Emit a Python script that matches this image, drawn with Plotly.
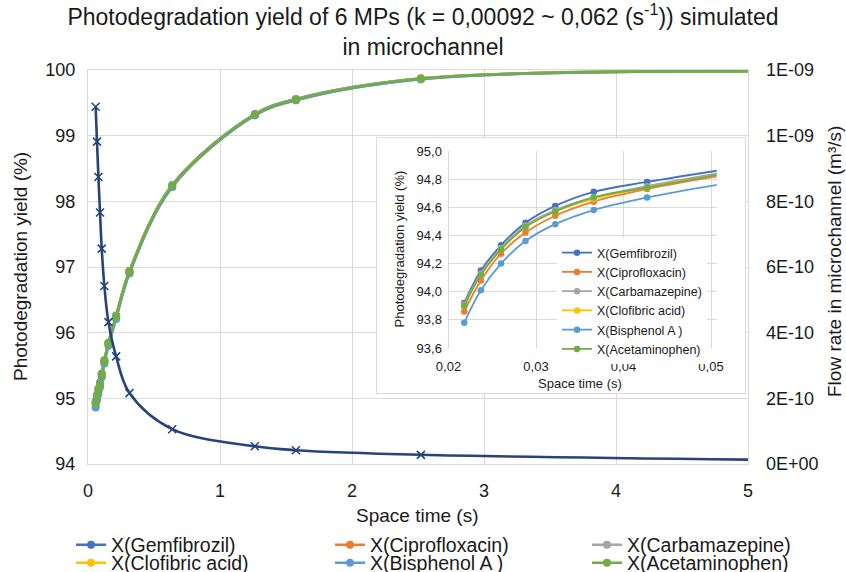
import plotly.graph_objects as go

# ---------------- data ----------------
names = ["X(Gemfibrozil)", "X(Ciprofloxacin)", "X(Carbamazepine)",
         "X(Clofibric acid)", "X(Bisphenol A )", "X(Acetaminophen)"]
colors = ["#4472C4", "#ED7D31", "#A5A5A5", "#FFC000", "#5B9BD5", "#70AD47"]

# main chart (space time in s)
tau = [0.058, 0.068, 0.079, 0.091, 0.104, 0.124, 0.155, 0.213, 0.314, 0.638,
       1.264, 1.575, 2.522, 5.06]
gem = [94.95, 95.05, 95.15, 95.24, 95.38, 95.58, 95.85, 96.26, 96.94, 98.25, 99.33, 99.56, 99.87, 99.98]
cipro = [94.91, 95.01, 95.11, 95.20, 95.35, 95.55, 95.82, 96.23, 96.91, 98.22, 99.31, 99.54, 99.86, 99.98]
carb = [94.94, 95.04, 95.14, 95.23, 95.37, 95.57, 95.84, 96.25, 96.93, 98.24, 99.32, 99.55, 99.87, 99.98]
clof = [94.93, 95.03, 95.13, 95.22, 95.37, 95.57, 95.84, 96.25, 96.93, 98.24, 99.32, 99.55, 99.87, 99.98]
bisph = [94.86, 94.97, 95.07, 95.17, 95.32, 95.53, 95.80, 96.21, 96.90, 98.22, 99.31, 99.54, 99.86, 99.98]
acet = [94.93, 95.03, 95.13, 95.22, 95.37, 95.57, 95.84, 96.25, 96.93, 98.24, 99.32, 99.55, 99.87, 99.98]
flow = [1.088e-9, 9.82e-10, 8.74e-10, 7.66e-10, 6.56e-10, 5.42e-10, 4.32e-10, 3.28e-10,
        2.16e-10, 1.06e-10, 5.4e-11, 4.2e-11, 2.8e-11, 1.3e-11]
main_series = [gem, cipro, carb, clof, bisph, acet]

# inset chart
tau_in = [0.0218, 0.0237, 0.0260, 0.0288, 0.0322, 0.0366, 0.0427, 0.0507]
gem_in = [93.92, 94.15, 94.33, 94.49, 94.61, 94.71, 94.78, 94.86]
cipro_in = [93.86, 94.08, 94.27, 94.42, 94.54, 94.64, 94.73, 94.82]
carb_in = [93.91, 94.13, 94.31, 94.47, 94.58, 94.67, 94.75, 94.84]
clof_in = [93.90, 94.12, 94.30, 94.46, 94.57, 94.66, 94.74, 94.83]
bisph_in = [93.78, 94.01, 94.20, 94.36, 94.48, 94.58, 94.67, 94.76]
acet_in = [93.90, 94.12, 94.30, 94.46, 94.57, 94.67, 94.74, 94.83]
inset_series = [gem_in, cipro_in, carb_in, clof_in, bisph_in, acet_in]

flow_ticks = [0, 2e-10, 4e-10, 6e-10, 8e-10, 1.0e-9, 1.2e-9]
flow_ticktext = ["0E+00", "2E-10", "4E-10", "6E-10", "8E-10", "1E-09", "1E-09"]

title_text = ("Photodegradation yield of 6 MPs (k = 0,00092 ~ 0,062 (s<sup>-1</sup>)) simulated"
              "<br>in microchannel")
x_title = "Space time (s)"
y_title = "Photodegradation yield (%)"
y2_title = "Flow rate in microchannel (m³/s)"

# ---------------- figure ----------------
FONT = "Liberation Sans, Arial, sans-serif"
TXT = "#1a1a1a"
GRID = "#D9D9D9"
W, H = 846, 572
L, R, T, B = 88, 98, 70, 108
PW, PH = W - L - R, H - T - B


def dx(px):
    return (px - L) / PW


def dy(py):
    return (H - B - py) / PH


fig = go.Figure()

legend_ids = ["legend", "legend3", "legend4", "legend5", "legend6", "legend7"]

for i, (nm, c, ys) in enumerate(zip(names, colors, main_series)):
    fig.add_trace(go.Scatter(
        x=tau, y=ys, name=nm, mode="lines+markers",
        line=dict(color=c, width=2.6, shape="spline"),
        marker=dict(color=c, size=8, symbol="circle"),
        xaxis="x", yaxis="y", legend=legend_ids[i],
        hoverinfo="skip",
    ))

fig.add_trace(go.Scatter(
    x=tau, y=flow, name="Flow rate", mode="lines+markers",
    line=dict(color="#264478", width=2.6, shape="spline"),
    marker=dict(color="#264478", size=8, symbol="x-thin-open",
                line=dict(color="#264478", width=1.6)),
    xaxis="x", yaxis="y2", showlegend=False, hoverinfo="skip",
))

# empty trace to create the inset frame subplot
fig.add_trace(go.Scatter(x=[], y=[], xaxis="x3", yaxis="y3", showlegend=False,
                         hoverinfo="skip"))

for nm, c, ys in zip(names, colors, inset_series):
    fig.add_trace(go.Scatter(
        x=tau_in, y=ys, name=nm, mode="lines+markers",
        line=dict(color=c, width=1.8, shape="spline"),
        marker=dict(color=c, size=6.5, symbol="circle"),
        xaxis="x4", yaxis="y4", legend="legend2", cliponaxis=False,
        hoverinfo="skip",
    ))

axis_common = dict(showgrid=True, gridcolor=GRID, gridwidth=1, zeroline=False,
                   showline=True, linecolor=GRID, linewidth=1, mirror=True,
                   ticks="", tickfont=dict(size=18, color=TXT, family=FONT))

# legend placement for the bottom legend (text start x, row centre y)
leg_pos = [(112, 545), (371, 545), (628, 545), (112, 563), (371, 563), (628, 563)]
legends = {}
for lid, (tx, ty) in zip(legend_ids, leg_pos):
    legends[lid] = dict(orientation="h", xref="container", yref="container",
                        x=(tx - 41) / W, y=1 - ty / H,
                        xanchor="left", yanchor="middle",
                        font=dict(size=19.5, color=TXT, family=FONT),
                        bgcolor="rgba(0,0,0,0)", itemwidth=30)

fig.update_layout(
    width=W, height=H,
    margin=dict(l=L, r=R, t=T, b=B, autoexpand=False),
    paper_bgcolor="white", plot_bgcolor="white",
    separators=", ",
    font=dict(family=FONT, color=TXT),
    title=dict(
        text=title_text,
        x=0.5, xanchor="center", xref="container",
        y=1 - 25 / H, yanchor="top", yref="container",
        font=dict(size=23, color=TXT, family=FONT),
    ),
    xaxis=dict(domain=[0, 1], range=[0, 5], dtick=1, anchor="y",
               ticklabelstandoff=10, **axis_common),
    yaxis=dict(domain=[0, 1], range=[94, 100], dtick=1, anchor="x",
               ticklabelstandoff=8, **axis_common),
    yaxis2=dict(overlaying="y", side="right", anchor="x", range=[0, 1.2e-9],
                tickmode="array", tickvals=flow_ticks, ticktext=flow_ticktext,
                showgrid=False, zeroline=False, showline=False, ticks="",
                ticklabelstandoff=17,
                tickfont=dict(size=18, color=TXT, family=FONT)),
    # inset frame
    xaxis3=dict(domain=[dx(377.3), dx(745)], range=[0, 1], anchor="y3",
                showgrid=False, zeroline=False, showticklabels=False, ticks="",
                showline=True, mirror=True, linecolor=GRID, linewidth=1, fixedrange=True),
    yaxis3=dict(domain=[dy(393.3), dy(138.3)], range=[0, 1], anchor="x3",
                showgrid=False, zeroline=False, showticklabels=False, ticks="",
                showline=True, mirror=True, linecolor=GRID, linewidth=1, fixedrange=True),
    # inset plot
    xaxis4=dict(domain=[dx(448.5), dx(716.7)], range=[0.02, 0.05065], anchor="y4",
                tickmode="array", tickvals=[0.02, 0.03, 0.04, 0.05], tickformat=".2f",
                showgrid=True, gridcolor=GRID, zeroline=False, showline=False, ticks="",
                ticklabelstandoff=9,
                tickfont=dict(size=13, color=TXT, family=FONT)),
    yaxis4=dict(domain=[dy(348), dy(151)], range=[93.6, 95.0], dtick=0.2, anchor="x4",
                tickformat=".1f",
                showgrid=True, gridcolor=GRID, zeroline=False, showline=True,
                linecolor=GRID, ticks="", ticklabelstandoff=3,
                tickfont=dict(size=13, color=TXT, family=FONT)),
    legend2=dict(orientation="v", xref="container", yref="container",
                 x=557 / W, y=1 - 238 / H, xanchor="left", yanchor="top",
                 font=dict(size=12.5, color=TXT, family=FONT),
                 bgcolor="white", itemwidth=30, tracegroupgap=0),
    showlegend=True,
    annotations=[
        dict(text=x_title, x=dx(416.5), y=dy(515), xref="paper", yref="paper",
             showarrow=False, xanchor="center", yanchor="middle",
             font=dict(size=19, color=TXT, family=FONT)),
        dict(text=y_title, x=dx(20), y=dy(267), xref="paper", yref="paper",
             showarrow=False, xanchor="center", yanchor="middle", textangle=-90,
             font=dict(size=19, color=TXT, family=FONT)),
        dict(text=y2_title, x=dx(834), y=dy(262), xref="paper", yref="paper",
             showarrow=False, xanchor="center", yanchor="middle", textangle=-90,
             font=dict(size=19, color=TXT, family=FONT)),
        dict(text=x_title, x=dx(580), y=dy(383), xref="paper", yref="paper",
             showarrow=False, xanchor="center", yanchor="middle",
             font=dict(size=13, color=TXT, family=FONT)),
        dict(text=y_title, x=dx(399), y=dy(249.5), xref="paper", yref="paper",
             showarrow=False, xanchor="center", yanchor="middle", textangle=-90,
             font=dict(size=13, color=TXT, family=FONT)),
    ],
)
fig.update_layout({lid: cfg for lid, cfg in legends.items()})

fig.write_html("out.html",
               config={"displayModeBar": False},
               post_script="document.body.style.margin='0';document.body.style.overflow='hidden';")
